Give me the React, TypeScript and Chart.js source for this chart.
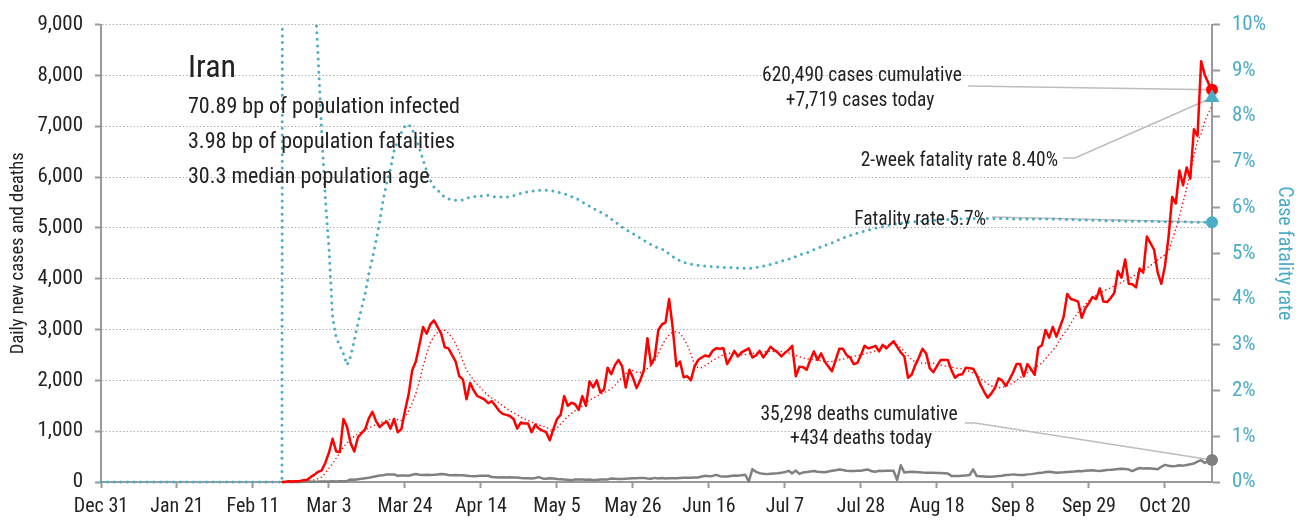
import { useEffect, useRef } from 'react';
import { Chart, registerables } from 'chart.js';

Chart.register(...registerables);

const FONT = '"Roboto Condensed", "Open Sans", sans-serif';
const RED = '#ff0000';
const TEAL = '#4bacc6';
const GRAY = '#808080';
const AXIS = '#9a9a9a';
const TEXT = '#222222';
const LEADER = '#bdbdbd';

// x axis: day index counted from Dec 31
const tickLabels = ['Dec 31', 'Jan 21', 'Feb 11', 'Mar 3', 'Mar 24', 'Apr 14', 'May 5', 'May 26', 'Jun 16', 'Jul 7', 'Jul 28', 'Aug 18', 'Sep 8', 'Sep 29', 'Oct 20'];
const TICK_STEP = 21;
const LAST_DAY = 307;
const FIRST_CASE_DAY = 50;

// daily new cases, from FIRST_CASE_DAY (Feb 19)
const dailyCases = [
  2, 3, 13, 10, 15, 20, 35, 45, 100, 145,
  200, 230, 380, 580, 850, 600, 590, 1240, 1080, 760,
  600, 880, 960, 1040, 1250, 1380, 1200, 1080, 1150, 1190,
  1050, 1240, 980, 1040, 1400, 1720, 2200, 2370, 2700, 3050,
  2920, 3100, 3180, 3050, 2920, 2650, 2630, 2500, 2370, 2080,
  2020, 1630, 1950, 1800, 1690, 1660, 1620, 1550, 1590, 1500,
  1400, 1340, 1320, 1300, 1240, 1050, 1170, 1150, 1150, 980,
  1130, 1050, 1010, 980, 820, 1040, 1240, 1320, 1690, 1500,
  1560, 1530, 1420, 1690, 1500, 1980, 1860, 2000, 1760, 1820,
  2250, 2120, 2300, 2400, 2280, 1860, 2210, 2050, 1850, 2000,
  2200, 2830, 2310, 2450, 2990, 3100, 3140, 3600, 3020, 2280,
  2370, 2060, 2080, 2000, 2270, 2400, 2450, 2490, 2470, 2580,
  2630, 2620, 2630, 2320, 2440, 2580, 2470, 2550, 2590, 2630,
  2450, 2490, 2580, 2450, 2550, 2660, 2600, 2550, 2470, 2540,
  2600, 2680, 2080, 2270, 2260, 2210, 2400, 2570, 2400, 2530,
  2370, 2270, 2180, 2400, 2620, 2620, 2500, 2450, 2320, 2340,
  2500, 2680, 2630, 2650, 2680, 2570, 2700, 2630, 2700, 2770,
  2660, 2550, 2470, 2050, 2110, 2300, 2450, 2620, 2530, 2240,
  2160, 2280, 2400, 2400, 2400, 2200, 2050, 2110, 2120, 2250,
  2240, 2230, 2100, 1920, 1780, 1660, 1740, 1850, 2040, 2000,
  1890, 2010, 2150, 2320, 2320, 2080, 2320, 2220, 2110, 2640,
  2690, 2990, 2840, 3050, 2860, 3050, 3250, 3700, 3600, 3580,
  3550, 3230, 3420, 3520, 3640, 3600, 3810, 3550, 3540, 3620,
  3720, 4150, 4020, 4380, 3900, 3890, 3830, 4200, 4120, 4830,
  4700, 4570, 4120, 3900, 4250, 4830, 5610, 5480, 6130, 5840,
  6190, 5970, 6940, 6810, 8280, 8010, 7850, 7719,
];

// smoothed daily cases, from FIRST_CASE_DAY
const casesAverage = [
  0, 1, 3, 5, 8, 11, 14, 20, 25, 40,
  70, 95, 180, 270, 360, 470, 580, 690, 770, 840,
  900, 950, 990, 1030, 1060, 1100, 1130, 1165, 1190, 1210,
  1230, 1240, 1225, 1210, 1280, 1400, 1560, 1740, 1990, 2280,
  2520, 2740, 2870, 2940, 2980, 2985, 2930, 2840, 2720, 2560,
  2380, 2200, 2100, 2000, 1920, 1850, 1770, 1700, 1650, 1610,
  1560, 1500, 1450, 1400, 1360, 1320, 1275, 1240, 1210, 1180,
  1150, 1120, 1100, 1080, 1030, 1010, 1060, 1140, 1210, 1290,
  1350, 1400, 1440, 1500, 1560, 1610, 1650, 1690, 1720, 1760,
  1790, 1840, 1900, 1980, 2060, 2130, 2200, 2190, 2160, 2150,
  2180, 2230, 2290, 2380, 2520, 2680, 2810, 2890, 2950, 2960,
  2930, 2820, 2700, 2520, 2300, 2250, 2250, 2290, 2340, 2390,
  2430, 2470, 2500, 2530, 2530, 2520, 2505, 2500, 2505, 2520,
  2530, 2540, 2550, 2555, 2565, 2570, 2570, 2570, 2568, 2560,
  2540, 2510, 2490, 2465, 2440, 2425, 2415, 2405, 2395, 2380,
  2372, 2370, 2370, 2380, 2400, 2415, 2435, 2450, 2470, 2490,
  2500, 2520, 2540, 2560, 2580, 2620, 2660, 2690, 2715, 2728,
  2700, 2640, 2570, 2490, 2400, 2365, 2350, 2340, 2339, 2339,
  2339, 2320, 2300, 2285, 2275, 2260, 2245, 2235, 2225, 2200,
  2175, 2150, 2100, 2040, 1980, 1930, 1890, 1865, 1855, 1860,
  1880, 1910, 1950, 2000, 2050, 2105, 2150, 2200, 2250, 2290,
  2340, 2420, 2510, 2590, 2680, 2800, 2910, 3000, 3120, 3240,
  3340, 3410, 3490, 3570, 3630, 3670, 3720, 3760, 3790, 3820,
  3860, 3890, 3930, 3970, 4000, 4040, 4080, 4130, 4170, 4210,
  4260, 4310, 4370, 4420, 4470, 4540, 4760, 4980, 5230, 5500,
  5780, 6100, 6420, 6700, 6850, 7100, 7250, 7400,
];

// daily deaths, from FIRST_CASE_DAY
const dailyDeaths = [
  2, 0, 2, 0, 4, 0, 4, 4, 5, 7,
  8, 11, 11, 12, 15, 11, 15, 16, 21, 49,
  43, 54, 63, 75, 85, 97, 113, 129, 135, 147,
  149, 149, 123, 129, 127, 122, 143, 157, 144, 139,
  141, 138, 141, 147, 158, 151, 136, 134, 136, 133,
  133, 125, 117, 111, 117, 121, 125, 122, 98, 94,
  89, 92, 88, 94, 87, 88, 80, 76, 73, 71,
  80, 96, 71, 63, 74, 68, 60, 55, 47, 45,
  35, 48, 47, 51, 45, 51, 37, 40, 50, 48,
  51, 69, 63, 57, 59, 64, 70, 75, 72, 81,
  81, 70, 63, 81, 67, 77, 71, 74, 75, 72,
  80, 82, 84, 85, 88, 90, 107, 121, 115, 120,
  141, 115, 108, 109, 119, 129, 121, 135, 144, 10,
  253, 200, 175, 160, 155, 160, 165, 170, 180, 195,
  220, 170, 225, 160, 188, 195, 205, 215, 200, 195,
  190, 205, 220, 230, 245, 235, 220, 215, 215, 220,
  220, 235, 245, 210, 200, 220, 215, 220, 220, 220,
  40, 330, 185, 195, 200, 195, 190, 185, 183, 182,
  180, 178, 175, 172, 169, 120, 118, 117, 125, 130,
  136, 250, 117, 115, 110, 105, 103, 110, 117, 125,
  136, 140, 150, 144, 140, 136, 150, 155, 165, 175,
  180, 195, 200, 190, 181, 188, 190, 195, 200, 205,
  215, 210, 220, 225, 230, 220, 215, 225, 235, 240,
  247, 255, 260, 258, 245, 215, 250, 275, 266, 270,
  266, 260, 250, 300, 337, 320, 310, 315, 330, 322,
  335, 350, 365, 400, 430, 375, 414, 434,
];

// case fatality rate (%), from day 0 (Dec 31)
const fatalityRate = [
  0, 0, 0, 0, 0, 0, 0, 0, 0, 0,
  0, 0, 0, 0, 0, 0, 0, 0, 0, 0,
  0, 0, 0, 0, 0, 0, 0, 0, 0, 0,
  0, 0, 0, 0, 0, 0, 0, 0, 0, 0,
  0, 0, 0, 0, 0, 0, 0, 0, 0, 0,
  0, 100, 100, 50, 28, 22, 18, 16, 14, 10.8,
  9.3, 7.6, 6.2, 5.1, 3.6, 3.15, 2.98, 2.8, 2.56, 2.75,
  3.1, 3.47, 3.8, 4.12, 4.55, 4.9, 5.27, 5.7, 6.18, 6.56,
  6.85, 7.25, 7.45, 7.64, 7.78, 7.82, 7.71, 7.52, 7.3, 7.04,
  6.8, 6.6, 6.45, 6.38, 6.3, 6.22, 6.19, 6.17, 6.16, 6.16,
  6.17, 6.2, 6.23, 6.24, 6.25, 6.25, 6.26, 6.27, 6.25, 6.23,
  6.23, 6.23, 6.23, 6.24, 6.26, 6.29, 6.31, 6.33, 6.35, 6.36,
  6.37, 6.38, 6.38, 6.38, 6.37, 6.36, 6.34, 6.32, 6.3, 6.27,
  6.24, 6.21, 6.17, 6.12, 6.08, 6.03, 5.98, 5.94, 5.9, 5.87,
  5.81, 5.75, 5.69, 5.63, 5.57, 5.52, 5.47, 5.43, 5.38, 5.33,
  5.28, 5.24, 5.19, 5.15, 5.12, 5.09, 5.06, 4.98, 4.93, 4.88,
  4.84, 4.8, 4.78, 4.76, 4.75, 4.74, 4.73, 4.72, 4.71, 4.71,
  4.7, 4.7, 4.69, 4.69, 4.69, 4.68, 4.68, 4.68, 4.67, 4.67,
  4.68, 4.69, 4.7, 4.72, 4.74, 4.76, 4.78, 4.8, 4.83, 4.85,
  4.87, 4.9, 4.93, 4.96, 4.99, 5.01, 5.04, 5.08, 5.11, 5.14,
  5.17, 5.2, 5.23, 5.26, 5.3, 5.33, 5.36, 5.39, 5.42, 5.44,
  5.46, 5.49, 5.51, 5.53, 5.55, 5.57, 5.58, 5.6, 5.62, 5.63,
  5.65, 5.66, 5.67, 5.68, 5.69, 5.69, 5.7, 5.7, 5.71, 5.71,
  5.72, 5.72, 5.73, 5.73, 5.74, 5.74, 5.75, 5.75, 5.76, 5.76,
  5.76, 5.76, 5.76, 5.76, 5.76, 5.76, 5.76, 5.76, 5.76, 5.76,
  5.76, 5.76, 5.75, 5.75, 5.75, 5.75, 5.75, 5.75, 5.75, 5.75,
  5.75, 5.75, 5.75, 5.75, 5.75, 5.75, 5.74, 5.74, 5.74, 5.74,
  5.73, 5.73, 5.73, 5.73, 5.72, 5.72, 5.72, 5.72, 5.71, 5.71,
  5.71, 5.71, 5.71, 5.7, 5.7, 5.7, 5.7, 5.7, 5.7, 5.7,
  5.7, 5.7, 5.7, 5.69, 5.69, 5.69, 5.69, 5.69, 5.69, 5.69,
  5.69, 5.68, 5.68, 5.68, 5.68, 5.68, 5.68, 5.68,
];

const twoWeekFatalityRate = 8.4;

const countryName = 'Iran';
const countryFacts = ['70.89 bp of population infected', '3.98 bp of population fatalities', '30.3 median population age'];
const casesNote = ['620,490 cases cumulative', '+7,719 cases today'];
const deathsNote = ['35,298 deaths cumulative', '+434 deaths today'];
const twoWeekNote = '2-week fatality rate 8.40%';
const rateNote = 'Fatality rate 5.7%';

const fromDay = (start: number, values: number[]) => values.map((v, i) => ({ x: start + i, y: v }));
const lastIs = (n: number, r: number) => (ctx: any) => (ctx.dataIndex === n - 1 ? r : 0);

const notesPlugin = {
  id: 'notes',
  beforeDatasetsDraw(chart: any) {
    const { ctx, scales } = chart;
    const px = scales.x.getPixelForValue(LAST_DAY);
    const yCases = scales.y.getPixelForValue(dailyCases[dailyCases.length - 1]);
    const yDeaths = scales.y.getPixelForValue(dailyDeaths[dailyDeaths.length - 1]);
    const yRate = scales.y1.getPixelForValue(fatalityRate[fatalityRate.length - 1]);
    const yTwo = scales.y1.getPixelForValue(twoWeekFatalityRate);
    ctx.save();
    ctx.strokeStyle = LEADER;
    ctx.lineWidth = 1.5;
    const seg = (pts: number[][]) => {
      ctx.beginPath();
      ctx.moveTo(pts[0][0], pts[0][1]);
      for (let i = 1; i < pts.length; i++) ctx.lineTo(pts[i][0], pts[i][1]);
      ctx.stroke();
    };
    seg([[968, 86], [px, yCases]]);
    seg([[1063, 158], [1075, 158], [px, yTwo]]);
    seg([[992, 217], [px, yRate]]);
    seg([[965, 423], [975, 423], [px, yDeaths]]);
    ctx.restore();
  },
  afterDraw(chart: any) {
    const { ctx } = chart;
    ctx.save();
    ctx.fillStyle = TEXT;
    ctx.textBaseline = 'alphabetic';
    ctx.textAlign = 'left';
    ctx.font = `32px ${FONT}`;
    ctx.fillText(countryName, 188, 77);
    ctx.font = `22px ${FONT}`;
    countryFacts.forEach((t, i) => ctx.fillText(t, 188, 113 + i * 35));
    ctx.font = `19.5px ${FONT}`;
    ctx.textAlign = 'center';
    ctx.fillText(casesNote[0], 862, 81);
    ctx.fillText(casesNote[1], 860, 106);
    ctx.fillText(deathsNote[0], 859, 420);
    ctx.fillText(deathsNote[1], 861, 444);
    ctx.textAlign = 'right';
    ctx.fillText(twoWeekNote, 1058, 166);
    ctx.fillText(rateNote, 986, 225);
    ctx.restore();
  },
};

export default function App() {
  const ref = useRef<HTMLCanvasElement | null>(null);
  useEffect(() => {
    if (!ref.current) return;
    const chart = new Chart(ref.current, {
      type: 'line',
      data: {
        datasets: [
          {
            label: '2-week fatality rate',
            data: [{ x: LAST_DAY, y: twoWeekFatalityRate }],
            yAxisID: 'y1',
            showLine: false,
            pointStyle: 'triangle',
            pointRadius: 8.5,
            pointBackgroundColor: TEAL,
            pointBorderWidth: 0,
            clip: false,
          },
          {
            label: 'Daily new cases',
            data: fromDay(FIRST_CASE_DAY, dailyCases),
            yAxisID: 'y',
            borderColor: RED,
            borderWidth: 2.5,
            pointRadius: lastIs(dailyCases.length, 6),
            pointBackgroundColor: RED,
            pointBorderWidth: 0,
            clip: false,
          },
          {
            label: 'Daily deaths',
            data: fromDay(FIRST_CASE_DAY, dailyDeaths),
            yAxisID: 'y',
            borderColor: GRAY,
            borderWidth: 2.5,
            pointRadius: lastIs(dailyDeaths.length, 6),
            pointBackgroundColor: GRAY,
            pointBorderWidth: 0,
            clip: false,
          },
          {
            label: 'Cases trend',
            data: fromDay(FIRST_CASE_DAY, casesAverage),
            yAxisID: 'y',
            borderColor: RED,
            borderWidth: 1.6,
            borderDash: [0, 4],
            borderCapStyle: 'round',
            pointRadius: 0,
          },
          {
            label: 'Case fatality rate',
            data: fromDay(0, fatalityRate),
            yAxisID: 'y1',
            borderColor: TEAL,
            borderWidth: 3,
            borderDash: [0, 6.6],
            borderCapStyle: 'round',
            pointRadius: lastIs(fatalityRate.length, 6),
            pointBackgroundColor: TEAL,
            pointBorderWidth: 0,
            clip: { left: 3, top: 0, right: 12, bottom: 3 },
          },
        ],
      },
      options: {
        animation: false,
        responsive: true,
        maintainAspectRatio: false,
        devicePixelRatio: 1,
        layout: { padding: { top: 19, left: 0, right: 0, bottom: 0 } },
        elements: { line: { tension: 0, borderJoinStyle: 'round' }, point: { hoverRadius: 0 } },
        plugins: { legend: { display: false }, tooltip: { enabled: false } },
        events: [],
        scales: {
          x: {
            type: 'linear',
            min: 0,
            max: LAST_DAY,
            afterBuildTicks: (s: any) => {
              s.ticks = tickLabels.map((_, i) => ({ value: i * TICK_STEP }));
            },
            afterFit: (s: any) => {
              s.height = 43;
            },
            ticks: {
              autoSkip: false,
              maxRotation: 0,
              color: TEXT,
              font: { family: FONT, size: 20 },
              padding: 7,
              callback: (_v: any, i: number) => tickLabels[i],
            },
            grid: { drawOnChartArea: false, drawTicks: true, tickLength: 6, tickColor: AXIS, tickWidth: 2 },
            border: { color: AXIS, width: 2 },
          },
          y: {
            position: 'left',
            min: 0,
            max: 9000,
            afterFit: (s: any) => {
              s.width = 101;
            },
            ticks: {
              stepSize: 1000,
              color: TEXT,
              font: { family: FONT, size: 21 },
              padding: 12,
              callback: (v: any) => Number(v).toLocaleString('en-US'),
            },
            grid: { color: '#b0b0b0', lineWidth: 1, drawTicks: true, tickLength: 6, tickColor: AXIS, tickWidth: 2, tickBorderDash: [] },
            border: { color: AXIS, width: 2, dash: [1.5, 2] },
            title: { display: true, text: 'Daily new cases and deaths', color: TEXT, font: { family: FONT, size: 18.5 }, padding: { top: 7, bottom: 0 } },
          },
          y1: {
            position: 'right',
            min: 0,
            max: 10,
            afterFit: (s: any) => {
              s.width = 91;
            },
            ticks: { stepSize: 1, color: TEAL, font: { family: FONT, size: 21 }, padding: 12, callback: (v: any) => `${v}%` },
            grid: { drawOnChartArea: false, drawTicks: true, tickLength: 8, tickColor: AXIS, tickWidth: 2 },
            border: { color: AXIS, width: 2 },
            title: { display: true, text: 'Case fatality rate', color: TEAL, font: { family: FONT, size: 20 }, padding: { top: 7, bottom: 0 } },
          },
        },
      } as any,
      plugins: [notesPlugin],
    });
    return () => chart.destroy();
  }, []);
  return (
    <div style={{ position: 'fixed', left: 0, top: 0, width: 1303, height: 525, background: '#fff' }}>
      <canvas ref={ref} />
    </div>
  );
}
